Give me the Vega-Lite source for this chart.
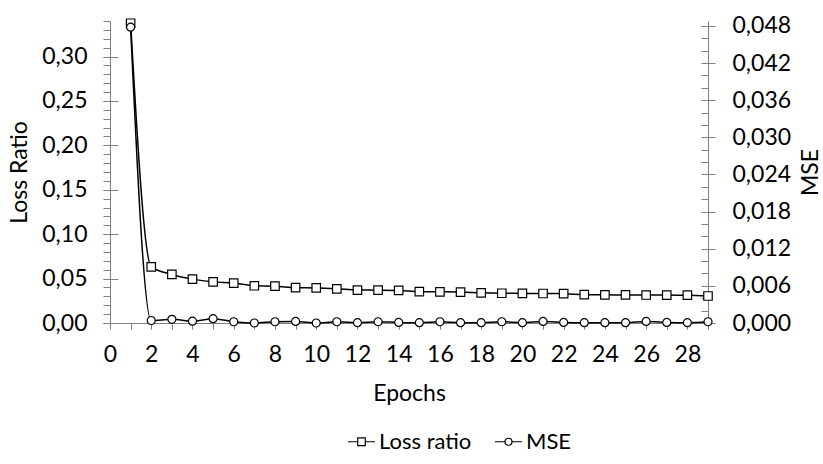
{
  "$schema": "https://vega.github.io/schema/vega-lite/v6.json",
  "width": 598,
  "height": 302,
  "autosize": {"type": "none"},
  "padding": {"left": 110, "top": 21, "right": 115, "bottom": 141},
  "background": "white",
  "config": {
    "font": "Lato",
    "view": {"stroke": null},
    "axis": {
      "labelFont": "Lato", "titleFont": "Lato", "labelFontSize": 23, "titleFontSize": 23,
      "titleFontWeight": "normal", "labelColor": "#000000", "titleColor": "#000000",
      "domainColor": "#808080", "tickColor": "#808080", "grid": false
    }
  },
  "data": {"values": [
    {"epoch": 1, "series": "Loss ratio", "value": 0.3375},
    {"epoch": 2, "series": "Loss ratio", "value": 0.0632},
    {"epoch": 3, "series": "Loss ratio", "value": 0.0547},
    {"epoch": 4, "series": "Loss ratio", "value": 0.0494},
    {"epoch": 5, "series": "Loss ratio", "value": 0.0463},
    {"epoch": 6, "series": "Loss ratio", "value": 0.0449},
    {"epoch": 7, "series": "Loss ratio", "value": 0.0419},
    {"epoch": 8, "series": "Loss ratio", "value": 0.0415},
    {"epoch": 9, "series": "Loss ratio", "value": 0.0398},
    {"epoch": 10, "series": "Loss ratio", "value": 0.0395},
    {"epoch": 11, "series": "Loss ratio", "value": 0.0385},
    {"epoch": 12, "series": "Loss ratio", "value": 0.0371},
    {"epoch": 13, "series": "Loss ratio", "value": 0.0370},
    {"epoch": 14, "series": "Loss ratio", "value": 0.0367},
    {"epoch": 15, "series": "Loss ratio", "value": 0.0353},
    {"epoch": 16, "series": "Loss ratio", "value": 0.0351},
    {"epoch": 17, "series": "Loss ratio", "value": 0.0348},
    {"epoch": 18, "series": "Loss ratio", "value": 0.0340},
    {"epoch": 19, "series": "Loss ratio", "value": 0.0335},
    {"epoch": 20, "series": "Loss ratio", "value": 0.0333},
    {"epoch": 21, "series": "Loss ratio", "value": 0.0332},
    {"epoch": 22, "series": "Loss ratio", "value": 0.0330},
    {"epoch": 23, "series": "Loss ratio", "value": 0.0319},
    {"epoch": 24, "series": "Loss ratio", "value": 0.0317},
    {"epoch": 25, "series": "Loss ratio", "value": 0.0316},
    {"epoch": 26, "series": "Loss ratio", "value": 0.0315},
    {"epoch": 27, "series": "Loss ratio", "value": 0.0314},
    {"epoch": 28, "series": "Loss ratio", "value": 0.0313},
    {"epoch": 29, "series": "Loss ratio", "value": 0.0304},
    {"epoch": 1, "series": "MSE", "value": 0.0478},
    {"epoch": 2, "series": "MSE", "value": 0.0004},
    {"epoch": 3, "series": "MSE", "value": 0.0006},
    {"epoch": 4, "series": "MSE", "value": 0.0003},
    {"epoch": 5, "series": "MSE", "value": 0.0007},
    {"epoch": 6, "series": "MSE", "value": 0.0002},
    {"epoch": 7, "series": "MSE", "value": 0.0},
    {"epoch": 8, "series": "MSE", "value": 0.0002},
    {"epoch": 9, "series": "MSE", "value": 0.00025},
    {"epoch": 10, "series": "MSE", "value": 0.0},
    {"epoch": 11, "series": "MSE", "value": 0.0002},
    {"epoch": 12, "series": "MSE", "value": 0.00005},
    {"epoch": 13, "series": "MSE", "value": 0.0002},
    {"epoch": 14, "series": "MSE", "value": 0.0001},
    {"epoch": 15, "series": "MSE", "value": 0.00005},
    {"epoch": 16, "series": "MSE", "value": 0.0002},
    {"epoch": 17, "series": "MSE", "value": 0.00005},
    {"epoch": 18, "series": "MSE", "value": 0.00005},
    {"epoch": 19, "series": "MSE", "value": 0.0002},
    {"epoch": 20, "series": "MSE", "value": 0.00005},
    {"epoch": 21, "series": "MSE", "value": 0.00025},
    {"epoch": 22, "series": "MSE", "value": 0.0001},
    {"epoch": 23, "series": "MSE", "value": 0.00005},
    {"epoch": 24, "series": "MSE", "value": 0.00005},
    {"epoch": 25, "series": "MSE", "value": 0.00005},
    {"epoch": 26, "series": "MSE", "value": 0.00025},
    {"epoch": 27, "series": "MSE", "value": 0.0001},
    {"epoch": 28, "series": "MSE", "value": 0.00005},
    {"epoch": 29, "series": "MSE", "value": 0.0002}
  ]},
  "encoding": {
    "x": {
      "field": "epoch", "type": "quantitative",
      "scale": {"domain": [0, 29], "nice": false, "zero": false},
      "axis": {
        "title": "Epochs", "values": [0,1,2,3,4,5,6,7,8,9,10,11,12,13,14,15,16,17,18,19,20,21,22,23,24,25,26,27,28,29],
        "labelExpr": "datum.value % 2 === 0 ? datum.label : ''",
        "tickSize": 6, "labelPadding": 14, "titlePadding": 16, "labelFlush": false, "labelOverlap": false
      }
    }
  },
  "layer": [
    {
      "transform": [{"filter": "datum.series === 'Loss ratio'"}],
      "encoding": {
        "y": {
          "field": "value", "type": "quantitative",
          "scale": {"domain": [0, 0.34], "nice": false},
          "axis": {
            "orient": "left", "title": "Loss Ratio", "values": [0, 0.05, 0.1, 0.15, 0.2, 0.25, 0.3],
            "labelExpr": "replace(format(datum.value, '.2f'), '.', ',')",
            "tickSize": 7, "labelPadding": 16, "titlePadding": 10, "labelFlush": false
          }
        }
      },
      "layer": [
        {"mark": {"type": "line", "interpolate": "monotone", "color": "black", "strokeWidth": 1.5}},
        {
          "mark": {"type": "point", "filled": true, "fill": "white", "stroke": "black", "strokeWidth": 1.2, "size": 72, "opacity": 1},
          "encoding": {
            "shape": {
              "field": "series", "type": "nominal",
              "scale": {"domain": ["Loss ratio", "MSE"], "range": ["square", "circle"]},
              "legend": null
            }
          }
        }
      ]
    },
    {
      "transform": [{"filter": "datum.series === 'MSE'"}],
      "encoding": {
        "y": {
          "field": "value", "type": "quantitative",
          "scale": {"domain": [0, 0.0488], "nice": false},
          "axis": {
            "orient": "right", "title": "MSE", "titleAngle": 270, "values": [0, 0.006, 0.012, 0.018, 0.024, 0.03, 0.036, 0.042, 0.048],
            "labelExpr": "replace(format(datum.value, '.3f'), '.', ',')",
            "tickSize": 7, "labelPadding": 17, "titlePadding": 32, "labelFlush": false
          }
        }
      },
      "layer": [
        {"mark": {"type": "line", "interpolate": "monotone", "color": "black", "strokeWidth": 1.5}},
        {
          "mark": {"type": "point", "filled": true, "fill": "white", "stroke": "black", "strokeWidth": 1.2, "size": 64, "opacity": 1},
          "encoding": {
            "shape": {
              "field": "series", "type": "nominal",
              "scale": {"domain": ["Loss ratio", "MSE"], "range": ["square", "circle"]},
              "legend": null
            }
          }
        }
      ]
    },
    {
      "mark": {"type": "point", "filled": false, "color": "black", "opacity": 0},
      "encoding": {
        "y": {
          "field": "value", "type": "quantitative",
          "scale": {"domain": [0, 0.34], "nice": false},
          "axis": null
        },
        "stroke": {
          "field": "series", "type": "nominal",
          "scale": {"domain": ["Loss ratio", "MSE"], "range": ["black", "black"]},
          "legend": null
        },
        "shape": {
          "field": "series", "type": "nominal",
          "scale": {
            "domain": ["Loss ratio", "MSE"],
            "range": [
              "M-1,0H-0.28M0.28,0H1M-0.28,-0.28H0.28V0.28H-0.28Z",
              "M-1,0H-0.26M0.26,0H1M0.26,0A0.26,0.26 0 1,1 -0.26,0A0.26,0.26 0 1,1 0.26,0Z"
            ]
          },
          "legend": {
            "title": null, "orient": "none", "direction": "horizontal",
            "legendX": 237, "legendY": 406,
            "labelFont": "Lato", "labelFontSize": 22, "labelColor": "#000000",
            "symbolSize": 729, "symbolStrokeWidth": 1.2, "symbolOpacity": 1,
            "symbolFillColor": "white", "symbolStrokeColor": "black",
            "labelOffset": 3, "columnPadding": 20
          }
        }
      }
    },
    {
      "transform": [{"filter": "datum.series === 'Loss ratio'"}],
      "mark": {"type": "point", "opacity": 0},
      "encoding": {
        "y": {
          "field": "value", "type": "quantitative",
          "scale": {"domain": [0, 0.34], "nice": false},
          "axis": {
            "orient": "left", "title": null, "labels": false, "domain": false, "tickSize": 7,
            "values": [0,0.01,0.02,0.03,0.04,0.05,0.06,0.07,0.08,0.09,0.1,0.11,0.12,0.13,0.14,0.15,0.16,0.17,0.18,0.19,0.2,0.21,0.22,0.23,0.24,0.25,0.26,0.27,0.28,0.29,0.3,0.31,0.32,0.33,0.34]
          }
        }
      }
    },
    {
      "transform": [{"filter": "datum.series === 'Loss ratio'"}],
      "mark": {"type": "point", "opacity": 0},
      "encoding": {
        "y": {
          "field": "value", "type": "quantitative",
          "scale": {"domain": [0, 0.34], "nice": false},
          "axis": {
            "orient": "right", "offset": -598, "title": null, "labels": false, "domain": false, "tickSize": 8,
            "values": [0.05, 0.1, 0.15, 0.2, 0.25, 0.3]
          }
        }
      }
    },
    {
      "transform": [{"filter": "datum.series === 'MSE'"}],
      "mark": {"type": "point", "opacity": 0},
      "encoding": {
        "y": {
          "field": "value", "type": "quantitative",
          "scale": {"domain": [0, 0.0488], "nice": false},
          "axis": {
            "orient": "left", "offset": -598, "title": null, "labels": false, "domain": false, "tickSize": 7,
            "values": [0,0.002,0.004,0.006,0.008,0.01,0.012,0.014,0.016,0.018,0.02,0.022,0.024,0.026,0.028,0.03,0.032,0.034,0.036,0.038,0.04,0.042,0.044,0.046,0.048]
          }
        }
      }
    }
  ],
  "resolve": {"scale": {"y": "independent", "shape": "independent", "stroke": "independent"}}
}
